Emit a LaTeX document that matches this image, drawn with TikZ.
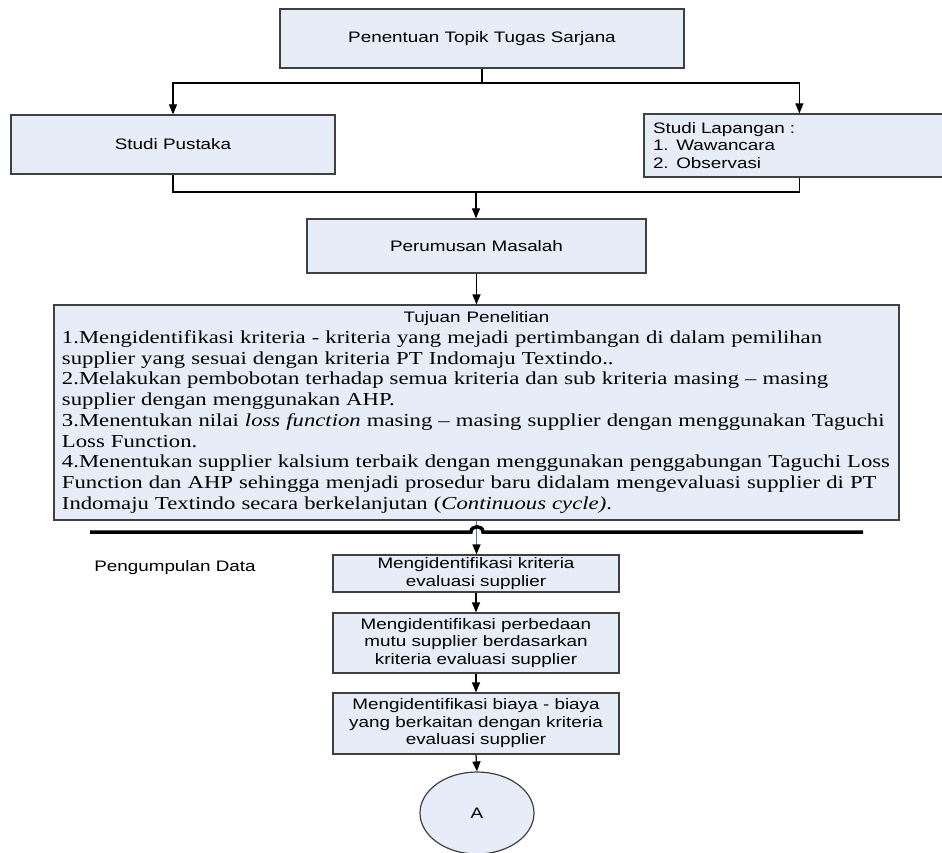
\documentclass[tikz,border=0pt]{standalone}
\usepackage{fontspec}
\setmainfont{Liberation Serif}[FakeStretch=1.24]
\setsansfont{Liberation Sans}[FakeStretch=1.24]
\usetikzlibrary{arrows.meta,shapes.geometric}
\definecolor{boxfill}{RGB}{231,237,248}
\definecolor{boxline}{RGB}{64,64,64}
\definecolor{linkblue}{RGB}{84,116,176}
\tikzset{
  box/.style={draw=boxline, line width=1.2pt, fill=boxfill, inner sep=0pt,
    font=\sffamily\fontsize{15.2}{17.5}\selectfont, align=center},
  arr/.style={draw=black, line width=1.2pt, -{Triangle[length=10pt,width=8pt]}},
  link/.style={draw=black, line width=1.2pt},
  lbl/.style={font=\sffamily\fontsize{15.2}{17.5}\selectfont, inner sep=0pt},
  sepline/.style={draw=black, line width=3.5pt},
}
\begin{document}
\begin{tikzpicture}[x=1pt,y=-1pt]
\clip (0,0) rectangle (942,853);
% boxes
\node[box, minimum width=404pt, minimum height=59pt] (top) at (482,38.5) {Penentuan Topik Tugas Sarjana};
\node[box, minimum width=324pt, minimum height=59pt] (pustaka) at (173,144.5) {Studi Pustaka};
\node[box, minimum width=400pt, minimum height=63pt, text width=382pt, inner xsep=9pt, align=left] (lapangan) at (844,145.5) {Studi Lapangan :\\1. Wawancara\\2. Observasi};
\node[box, minimum width=339pt, minimum height=54pt] (perumusan) at (476.5,246) {Perumusan Masalah};
\node[box, minimum width=845pt, minimum height=215pt, text width=829pt, inner xsep=8pt, align=left,
  font=\rmfamily\fontsize{18.3}{20.75}\selectfont] (tujuan) at (476.5,412.5) {%
{\centering\sffamily\fontsize{15.2}{17.5}\selectfont Tujuan Penelitian\par}
\mbox{1.Mengidentifikasi kriteria - kriteria yang mejadi pertimbangan di dalam pemilihan}\\
\mbox{supplier yang sesuai dengan kriteria PT Indomaju Textindo..}\\
\mbox{2.Melakukan pembobotan terhadap semua kriteria dan sub kriteria masing – masing}\\
\mbox{supplier dengan menggunakan AHP.}\\
\mbox{3.Menentukan nilai \textit{loss function} masing – masing supplier dengan menggunakan Taguchi}\\
\mbox{Loss Function.}\\
\mbox{4.Menentukan supplier kalsium terbaik dengan menggunakan penggabungan Taguchi Loss}\\
\mbox{Function dan AHP sehingga menjadi prosedur baru didalam mengevaluasi supplier di PT}\\
\mbox{Indomaju Textindo secara berkelanjutan (\textit{Continuous cycle)}.}};
\node[lbl] (pengumpulan) at (175,568) {Pengumpulan Data};
\node[box, minimum width=286pt, minimum height=37pt] (k1) at (476,573.5) {Mengidentifikasi kriteria\\evaluasi supplier};
\node[box, minimum width=286pt, minimum height=60pt] (k2) at (476,643) {Mengidentifikasi perbedaan\\mutu supplier berdasarkan\\kriteria evaluasi supplier};
\node[box, minimum width=286pt, minimum height=61pt] (k3) at (476,723.5) {Mengidentifikasi biaya - biaya\\yang berkaitan dengan kriteria\\evaluasi supplier};
\node[box, ellipse, minimum width=114pt, minimum height=82pt] (a) at (477,813) {A};
% connectors
\coordinate (split) at (482,83);
\coordinate (merge) at (476,192);
\coordinate (lapTop) at ([xshift=156pt]lapangan.north west);
\coordinate (lapBot) at ([xshift=156pt]lapangan.south west);
\draw[link] (top.south) -- (split);
\draw[arr] (split) -| (pustaka.north);
\draw[arr] (split) -| (lapTop);
\draw[link] (pustaka.south) |- (merge);
\draw[link] (lapBot) |- (merge);
\draw[arr] (merge) -- (merge |- perumusan.north);
\draw[arr] (perumusan.south) -- (perumusan.south |- tujuan.north);
\draw[line width=1.2pt, draw=linkblue, -{Triangle[length=10pt,width=8pt,black]}] (tujuan.south) -- (tujuan.south |- k1.north);
\draw[arr] (k1.south) -- (k2.north);
\draw[arr] (k2.south) -- (k3.north);
\draw[arr] (k3.south) -- (a.north);
% separator line with hop
\coordinate (sepL) at (90,532);
\coordinate (sepR) at (863,532);
\draw[sepline] (sepL) -- (471,532) .. controls (471,525) and (483,525) .. (483,532) -- (sepR);
\end{tikzpicture}
\end{document}
